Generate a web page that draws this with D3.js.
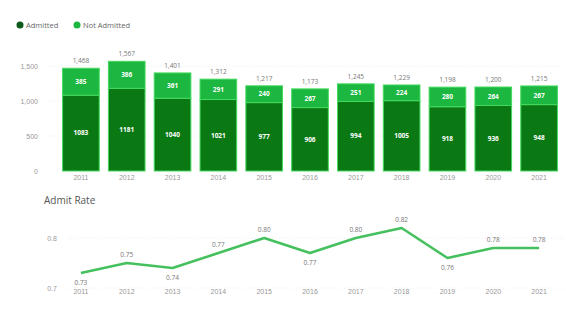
<!DOCTYPE html>
<html>
<head>
<meta charset="utf-8">
<script src="https://cdn.jsdelivr.net/npm/d3@7"></script>
<style>
  body { margin: 0; background: #fff; }
  svg { font-family: "Open Sans", "DejaVu Sans", sans-serif; }
</style>
</head>
<body>
<div id="chart"></div>
<script>
// data
var years = ["2011", "2012", "2013", "2014", "2015", "2016", "2017", "2018", "2019", "2020", "2021"];
var admitted = [1083, 1181, 1040, 1021, 977, 906, 994, 1005, 918, 936, 948];
var notAdmitted = [385, 386, 361, 291, 240, 267, 251, 224, 280, 264, 267];
var admitRate = [0.73, 0.75, 0.74, 0.77, 0.80, 0.77, 0.80, 0.82, 0.76, 0.78, 0.78];
var rateLabelBelow = [true, false, true, false, false, true, false, false, true, false, false];
var barTicks = [0, 500, 1000, 1500];
var rateTicks = [0.7, 0.8];

var width = 566, height = 313;
var darkGreen = "#0a7914", lightGreen = "#1cb740", edgeGreen = "#45da5e", lineGreen = "#45c05e";

var svg = d3.select("#chart").append("svg")
    .attr("width", width)
    .attr("height", height);

// legend
var legend = svg.append("g").attr("transform", "translate(20,25)");
legend.append("circle").attr("r", 3.5).attr("fill", "#0b5a1c");
legend.append("text").attr("x", 6).attr("dy", "0.35em")
  .attr("font-size", 7.5).attr("fill", "#666").text("Admitted");
legend.append("circle").attr("cx", 57).attr("r", 3.5).attr("fill", lightGreen);
legend.append("text").attr("x", 63).attr("dy", "0.35em")
  .attr("font-size", 7.5).attr("fill", "#666").text("Not Admitted");

// scales
var x = d3.scaleBand()
    .domain(years)
    .range([58, 562])
    .paddingInner(0.2)
    .paddingOuter(0.1);

var y = d3.scaleLinear()
    .domain([0, 1500])
    .range([171, 66]);

var yRate = d3.scaleLinear()
    .domain([0.7, 0.8])
    .range([288, 238]);

// bar chart gridlines + y labels
svg.append("g").selectAll("line").data(barTicks.slice(1)).enter()
  .append("line")
    .attr("x1", 46).attr("x2", 564)
    .attr("y1", function(d) { return y(d); })
    .attr("y2", function(d) { return y(d); })
    .attr("stroke", "#eee")
    .attr("stroke-dasharray", "1,2");

var yAxis = d3.axisLeft(y)
    .tickValues(barTicks)
    .tickSize(0)
    .tickPadding(0)
    .tickFormat(d3.format(","));

svg.append("g")
    .attr("transform", "translate(38,0)")
    .call(yAxis)
    .call(function(g) { g.select(".domain").remove(); })
    .selectAll("text")
    .attr("font-size", 7)
    .attr("fill", "#999");

// stacked bars
var rows = years.map(function(d, i) {
  return { year: d, a: admitted[i], n: notAdmitted[i], t: admitted[i] + notAdmitted[i] };
});

var bars = svg.selectAll(".bar").data(rows).enter().append("g").attr("class", "bar");

bars.append("rect")
    .attr("x", function(d) { return x(d.year); })
    .attr("width", x.bandwidth())
    .attr("y", function(d) { return y(d.a); })
    .attr("height", function(d) { return y(0) - y(d.a); })
    .attr("fill", darkGreen)
    .attr("stroke", edgeGreen)
    .attr("stroke-width", 1);

bars.append("rect")
    .attr("x", function(d) { return x(d.year); })
    .attr("width", x.bandwidth())
    .attr("y", function(d) { return y(d.t); })
    .attr("height", function(d) { return y(d.a) - y(d.t); })
    .attr("fill", lightGreen)
    .attr("stroke", edgeGreen)
    .attr("stroke-width", 1);

bars.append("text")
    .attr("x", function(d) { return x(d.year) + x.bandwidth() / 2; })
    .attr("y", function(d) { return (y(d.a) + y(0)) / 2; })
    .attr("dy", "0.35em")
    .attr("text-anchor", "middle")
    .attr("font-size", 6.5)
    .attr("font-weight", "bold")
    .attr("fill", "#fff")
    .text(function(d) { return d.a; });

bars.append("text")
    .attr("x", function(d) { return x(d.year) + x.bandwidth() / 2; })
    .attr("y", function(d) { return (y(d.a) + y(d.t)) / 2; })
    .attr("dy", "0.35em")
    .attr("text-anchor", "middle")
    .attr("font-size", 6.5)
    .attr("font-weight", "bold")
    .attr("fill", "#fff")
    .text(function(d) { return d.n; });

bars.append("text")
    .attr("x", function(d) { return x(d.year) + x.bandwidth() / 2; })
    .attr("y", function(d) { return y(d.t) - 5; })
    .attr("text-anchor", "middle")
    .attr("font-size", 6.5)
    .attr("fill", "#777")
    .text(function(d) { return d3.format(",")(d.t); });

// bar x axis
var xAxis = d3.axisBottom(x).tickSize(0).tickPadding(0);
svg.append("g")
    .attr("transform", "translate(0,175)")
    .call(xAxis)
    .call(function(g) { g.select(".domain").remove(); })
    .selectAll("text")
    .attr("font-size", 7)
    .attr("fill", "#999");

// admit rate chart
svg.append("text")
    .attr("x", 44).attr("y", 204)
    .attr("font-size", 10)
    .attr("fill", "#555")
    .text("Admit Rate");

svg.append("g").selectAll("line").data(rateTicks).enter()
  .append("line")
    .attr("x1", 68).attr("x2", 564)
    .attr("y1", function(d) { return yRate(d); })
    .attr("y2", function(d) { return yRate(d); })
    .attr("stroke", "#eee")
    .attr("stroke-dasharray", "1,2");

svg.append("g")
    .attr("transform", "translate(57,0)")
    .call(d3.axisLeft(yRate).tickValues(rateTicks).tickSize(0).tickPadding(0).tickFormat(d3.format(".1f")))
    .call(function(g) { g.select(".domain").remove(); })
    .selectAll("text")
    .attr("font-size", 7)
    .attr("fill", "#999");

var line = d3.line()
    .x(function(d, i) { return x(years[i]) + x.bandwidth() / 2; })
    .y(function(d) { return yRate(d); });

svg.append("path")
    .datum(admitRate)
    .attr("d", line)
    .attr("fill", "none")
    .attr("stroke", lineGreen)
    .attr("stroke-width", 2.5)
    .attr("stroke-linejoin", "round");

svg.append("g").selectAll("text").data(admitRate).enter()
  .append("text")
    .attr("x", function(d, i) { return x(years[i]) + x.bandwidth() / 2; })
    .attr("y", function(d, i) { return rateLabelBelow[i] ? yRate(d) + 12 : yRate(d) - 6; })
    .attr("text-anchor", "middle")
    .attr("font-size", 6.5)
    .attr("fill", "#777")
    .text(function(d) { return d3.format(".2f")(d); });

svg.append("g")
    .attr("transform", "translate(0,289)")
    .call(xAxis)
    .call(function(g) { g.select(".domain").remove(); })
    .selectAll("text")
    .attr("font-size", 7)
    .attr("fill", "#999");
</script>
</body>
</html>
